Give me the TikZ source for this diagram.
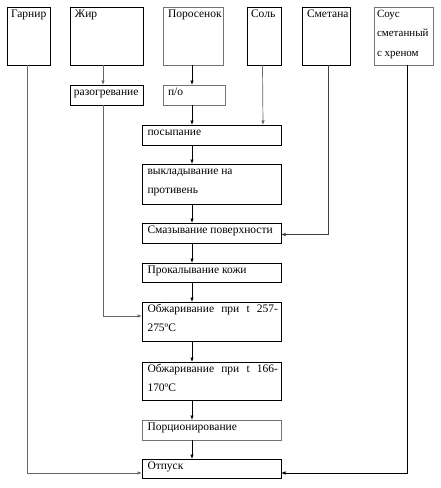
\documentclass[tikz,border=0pt]{standalone}
\usepackage{fontspec}
\setmainfont{Liberation Serif}
\usetikzlibrary{arrows.meta}
\newcommand\bxt[4][5pt]{\parbox[c][#3][t]{#2}{\hspace*{#1}\parbox[t]{\dimexpr#2-#1-3pt}{\raggedright\baselineskip=19.5pt\rule{0pt}{10pt}#4}}}
\tikzset{
  box/.style={draw=black, line width=0.8pt, inner sep=0pt, outer sep=0pt, anchor=north west, font=\fontsize{11.5}{19.5}\selectfont},
  gbox/.style={box, draw=black!55},
  arr/.style={line width=0.7pt, -{Latex[length=4.5pt,width=3.5pt]}},
}
\begin{document}
\begin{tikzpicture}[x=1pt,y=-1pt]
\useasboundingbox (0,0) rectangle (440,488);
\coordinate (cx) at (192,0);
% top row
\node[box]  (g)   at (7,7)   {\bxt[4pt]{43pt}{58pt}{Гарнир}};
\node[box]  (zh)  at (70,7)  {\bxt{73pt}{58pt}{Жир}};
\node[gbox] (por) at (163,7) {\bxt{60pt}{58pt}{Поросенок}};
\node[box]  (sol) at (247,7) {\bxt[4pt]{34pt}{58pt}{Соль}};
\node[box]  (sm)  at (302,7) {\bxt{48pt}{58pt}{Сметана}};
\node[gbox, font=\fontsize{11}{19.5}\selectfont] (so)  at (374,7) {\bxt[3pt]{59pt}{58pt}{Соус\\сметанный\\с хреном}};
% second row
\node[box]  (raz) at (70,85)  {\bxt[4pt]{73pt}{20pt}{разогревание}};
\node[gbox] (po)  at (163,85) {\bxt{62pt}{20pt}{п/о}};
% main chain
\node[box]  (pos)  at (142,125) {\bxt[5.5pt]{139pt}{20pt}{посыпание}};
\node[box]  (vyk)  at (142,164) {\bxt[5.5pt]{139pt}{40pt}{выкладывание на\\противень}};
\node[box]  (smz)  at (142,223) {\bxt[5.5pt]{139pt}{20pt}{Смазывание поверхности}};
\node[box]  (prok) at (142,263) {\bxt[5.5pt]{139pt}{19pt}{Прокалывание кожи}};
\node[box]  (ob1)  at (142,302) {\bxt[5.5pt]{139pt}{39pt}{\makebox[\linewidth][s]{Обжаривание при t 257-}\\275ºC}};
\node[box]  (ob2)  at (142,362) {\bxt[5.5pt]{139pt}{38pt}{\makebox[\linewidth][s]{Обжаривание при t 166-}\\170ºC}};
\node[gbox] (porc) at (142,420) {\bxt[5.5pt]{139pt}{20pt}{Порционирование}};
\node[box]  (otp)  at (142,459) {\bxt[5.5pt]{139pt}{19pt}{Отпуск}};
% chain connectors
\draw[arr] (por.south -| cx) -- (po.north -| cx);
\draw[arr] (po.south -| cx) -- (pos.north -| cx);
\draw[arr] (pos.south -| cx) -- (vyk.north -| cx);
\draw[arr] (vyk.south -| cx) -- (smz.north -| cx);
\draw[arr] (smz.south -| cx) -- (prok.north -| cx);
\draw[arr] (prok.south -| cx) -- (ob1.north -| cx);
\draw[arr] (ob1.south -| cx) -- (ob2.north -| cx);
\draw[arr] (ob2.south -| cx) -- (porc.north -| cx);
\draw[arr] (porc.south -| cx) -- (otp.north -| cx);
% side connectors
\draw[arr, draw=black!60] ([xshift=-3.5pt]zh.south) -- ([xshift=-3.5pt]raz.north);
\draw[arr, draw=black!60] ([xshift=-3.5pt]raz.south) |- ([yshift=5.5pt]ob1.west);
\draw[arr, draw=black!60] ([xshift=-1.5pt]sol.south) -- ([xshift=-1pt]pos.north -| sol.south);
\draw[arr, draw=black!75] ([xshift=2pt]sm.south) |- ([yshift=-1.5pt]smz.east);
\draw[arr, draw=black!60] ([xshift=-1.5pt]g.south) |- ([yshift=-4.5pt]otp.west);
\draw[arr] ([xshift=3.5pt]so.south) |- ([yshift=-4.5pt]otp.east);
\end{tikzpicture}
\end{document}
